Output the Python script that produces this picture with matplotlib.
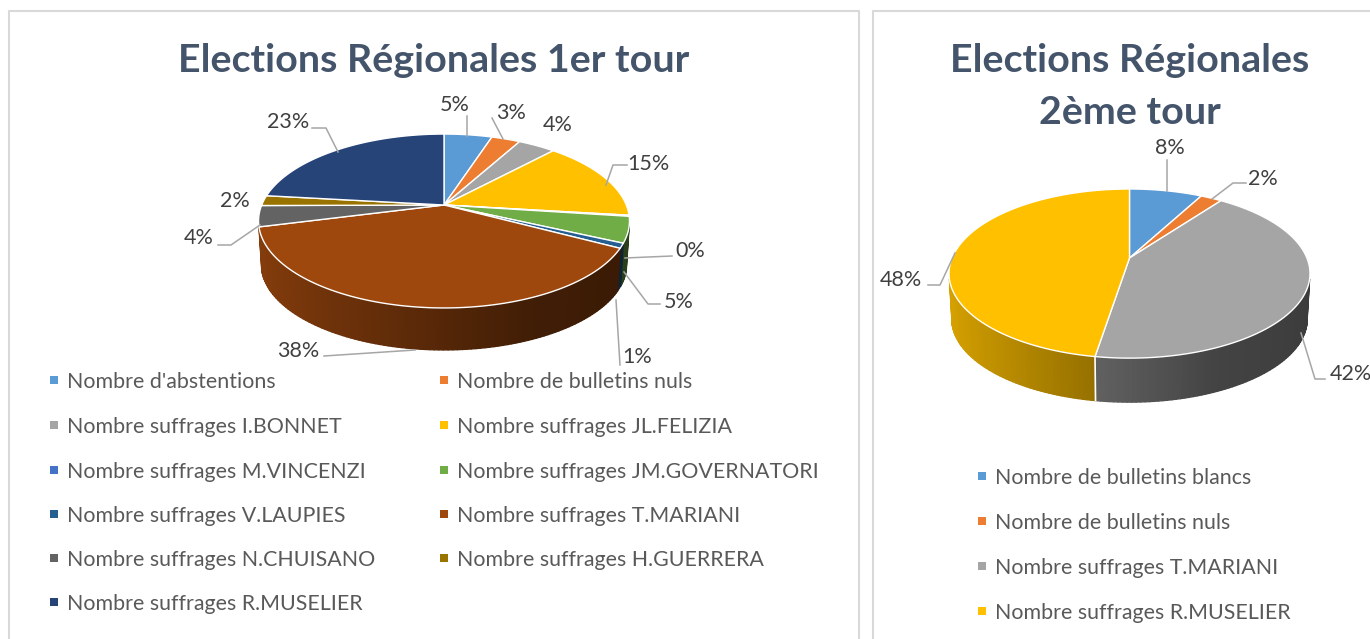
import numpy as np
import matplotlib
matplotlib.use('Agg')
import matplotlib.pyplot as plt
from matplotlib.collections import PolyCollection
from matplotlib.colors import to_rgb

plt.rcParams['font.family'] = ['Lato', 'DejaVu Sans']

# 1er tour
labels_t1 = ["Nombre d'abstentions", "Nombre de bulletins nuls",
             "Nombre suffrages I.BONNET", "Nombre suffrages JL.FELIZIA",
             "Nombre suffrages M.VINCENZI", "Nombre suffrages JM.GOVERNATORI",
             "Nombre suffrages V.LAUPIES", "Nombre suffrages T.MARIANI",
             "Nombre suffrages N.CHUISANO", "Nombre suffrages H.GUERRERA",
             "Nombre suffrages R.MUSELIER"]
values_t1 = [5.0, 3.0, 3.9, 15.0, 0.2, 4.8, 0.9, 38.2, 3.9, 1.9, 23.2]
colors_t1 = ['#5B9BD5', '#ED7D31', '#A5A5A5', '#FFC000', '#4472C4', '#70AD47',
             '#255E91', '#9E480E', '#636363', '#997300', '#264478']

# 2eme tour
labels_t2 = ["Nombre de bulletins blancs", "Nombre de bulletins nuls",
             "Nombre suffrages T.MARIANI", "Nombre suffrages R.MUSELIER"]
values_t2 = [7.8, 2.3, 42.49, 47.5]
colors_t2 = ['#5B9BD5', '#ED7D31', '#A5A5A5', '#FFC000']

TITLE_COLOR = '#44546A'
LABEL_COLOR = '#404040'
LEGEND_COLOR = '#595959'
LEADER_COLOR = '#A6A6A6'
FRAME_COLOR = '#D9D9D9'
PERSP = 0.184


def project(t, cx, cy, rx, ry, drop=0.0, scale=1.0):
    # cercle vu en perspective, t=0 en haut et sens horaire
    w = 1 + PERSP * np.cos(t)
    return cx + rx * scale * np.sin(t) / w, cy + drop - ry * scale * np.cos(t) / w


def pie3d(ax, values, colors, cx, cy, rx, ry, drop):
    edges = np.concatenate([[0], np.cumsum(values)]) / np.sum(values) * 2 * np.pi

    # paroi laterale, degrade par petites bandes
    polys, cols = [], []
    for i, col in enumerate(colors):
        ts = np.linspace(edges[i], edges[i + 1], max(2, int(values[i] * 3)))
        for t0, t1 in zip(ts[:-1], ts[1:]):
            if np.cos((t0 + t1) / 2) > -0.24:
                continue
            x0, y0 = project(t0, cx, cy, rx, ry)
            x1, y1 = project(t1, cx, cy, rx, ry)
            x2, y2 = project(t1, cx, cy, rx, ry, drop, 0.985)
            x3, y3 = project(t0, cx, cy, rx, ry, drop, 0.985)
            polys.append([(x0, y0), (x1, y1), (x2, y2), (x3, y3)])
            k = np.interp(np.sin((t0 + t1) / 2), [-1, -0.2, 0.4, 1], [0.85, 0.6, 0.41, 0.36])
            cols.append(tuple(c * k for c in to_rgb(col)))
    ax.add_collection(PolyCollection(polys, facecolors=cols, edgecolors=cols,
                                     linewidths=1.0, zorder=2))

    # separations blanches sur la paroi
    for t in edges:
        if np.cos(t) < -0.5 and abs(np.sin(t)) < 0.6:
            x0, y0 = project(t, cx, cy, rx, ry)
            x1, y1 = project(t, cx, cy, rx, ry, drop, 0.985)
            ax.plot([x0, x1], [y0, y1], color='white', lw=1.2, zorder=3)

    # dessus du camembert
    for i, col in enumerate(colors):
        ts = np.linspace(edges[i], edges[i + 1], max(2, int(values[i] * 8)))
        xs, ys = project(ts, cx, cy, rx, ry)
        ax.fill(np.r_[cx, xs], np.r_[cy, ys], facecolor=col, edgecolor='white',
                lw=1.0, joinstyle='round', zorder=4)


def leader(ax, pts):
    ax.plot([p[0] for p in pts], [p[1] for p in pts], color=LEADER_COLOR, lw=1.1, zorder=5)


def legend(ax, labels, colors, xs, text_xs, ys, ncol):
    for i, (lab, col) in enumerate(zip(labels, colors)):
        y = ys[i // ncol]
        ax.scatter([xs[i % ncol]], [y], marker='s', s=30, color=col, linewidths=0, zorder=5)
        ax.text(text_xs[i % ncol], y + 2, lab, fontsize=15.4, color=LEGEND_COLOR, va='center', ha='left')


fig = plt.figure(figsize=(13.70, 6.39), dpi=100)
ax = fig.add_axes([0, 0, 1, 1])
ax.set_xlim(0, 1370)
ax.set_ylim(639, 0)
ax.axis('off')

# cadres
ax.plot([9, 9, 859, 859], [639, 11, 11, 639], color=FRAME_COLOR, lw=1.5)
ax.plot([873, 873, 1372], [639, 11, 11], color=FRAME_COLOR, lw=1.5)

# titres
ax.text(433.5, 60, 'Elections Régionales 1er tour', fontsize=28.4, fontweight='bold',
        color=TITLE_COLOR, ha='center', va='center')
ax.text(1129.5, 60, 'Elections Régionales', fontsize=28.4, fontweight='bold',
        color=TITLE_COLOR, ha='center', va='center')
ax.text(1129.5, 113, '2ème tour', fontsize=28.4, fontweight='bold',
        color=TITLE_COLOR, ha='center', va='center')

pie3d(ax, values_t1, colors_t1, 444, 205, 182.3, 84, 43.5)
pie3d(ax, values_t2, colors_t2, 1129.5, 258, 177.4, 81.7, 45.5)

# etiquettes du 1er tour
pos_t1 = [(455, 105), (511, 113), (558, 125), (648, 164), (690, 251), (679, 302),
          (637, 357), (298, 351), (199, 238), (235, 201), (288, 122)]
for v, (x, y) in zip(values_t1, pos_t1):
    ax.text(x, y, f'{v:.0f}%', fontsize=15.5, color=LABEL_COLOR, ha='center', va='center', zorder=6)

leader(ax, [(467, 116), (467, 136)])
leader(ax, [(492, 118), (503, 139)])
leader(ax, [(627, 165), (613, 165), (606, 185)])
leader(ax, [(672, 256), (625, 258)])
leader(ax, [(660, 304), (648, 304), (624, 272)])
leader(ax, [(620, 365), (616, 300)])
leader(ax, [(324, 356), (415, 350)])
leader(ax, [(218, 245), (231, 245), (260, 225)])
leader(ax, [(312, 128), (326, 128), (338, 152)])

# etiquettes du 2eme tour
pos_t2 = [(1170, 148), (1263, 179), (1351, 374), (901, 280)]
for v, (x, y) in zip(values_t2, pos_t2):
    ax.text(x, y, f'{v:.0f}%', fontsize=15.5, color=LABEL_COLOR, ha='center', va='center', zorder=6)

leader(ax, [(1167, 160), (1167, 191)])
leader(ax, [(1246, 183), (1233, 183), (1212, 199)])
leader(ax, [(1325, 379), (1315, 379), (1301, 333)])
leader(ax, [(928, 285), (940, 285), (955, 253)])

legend(ax, labels_t1, colors_t1, [54, 444], [67.5, 457.5], [380, 425, 470, 514, 558, 602], 2)
legend(ax, labels_t2, colors_t2, [982], [995], [476, 521, 566, 611], 1)

fig.savefig('out.png', dpi=100, facecolor='white')
